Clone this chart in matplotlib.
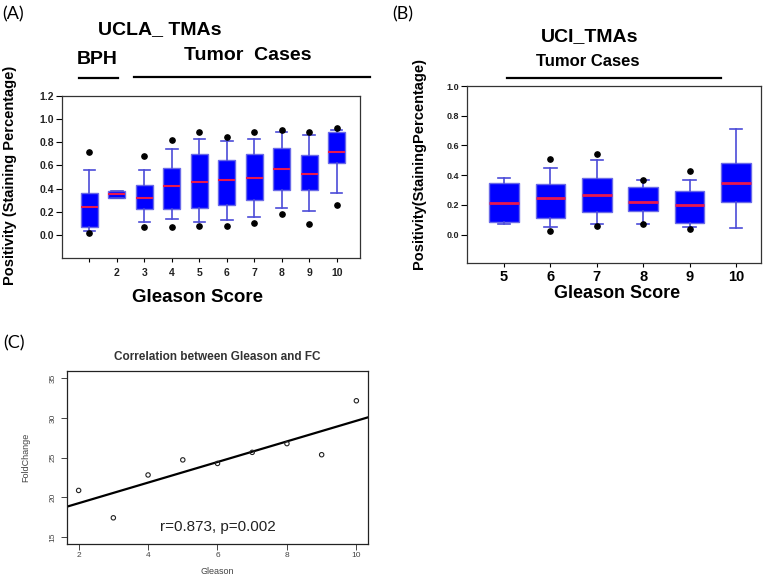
import numpy as np
import matplotlib
matplotlib.use("Agg")
import matplotlib.pyplot as plt
from matplotlib import font_manager
from matplotlib.lines import Line2D
import matplotlib.transforms as mtrans

# ---------------- data ----------------
ucla_pos = [1, 2, 3, 4, 5, 6, 7, 8, 9, 10]
ucla_ticklabels = ['', '2', '3', '4', '5', '6', '7', '8', '9', '10']
ucla_med = [0.24, 0.35, 0.32, 0.42, 0.46, 0.47, 0.49, 0.57, 0.53, 0.72]
ucla_q1 = [0.07, 0.32, 0.22, 0.22, 0.23, 0.26, 0.30, 0.39, 0.39, 0.62]
ucla_q3 = [0.36, 0.38, 0.43, 0.58, 0.70, 0.65, 0.70, 0.75, 0.69, 0.89]
ucla_wlo = [0.03, 0.32, 0.11, 0.14, 0.11, 0.13, 0.15, 0.23, 0.21, 0.36]
ucla_whi = [0.56, 0.38, 0.56, 0.74, 0.83, 0.81, 0.83, 0.89, 0.86, 0.91]
ucla_fliers = [[0.72, 0.02], [], [0.68, 0.07], [0.82, 0.07], [0.89, 0.08],
               [0.85, 0.08], [0.89, 0.10], [0.91, 0.18], [0.89, 0.09], [0.925, 0.26]]

uci_pos = [5, 6, 7, 8, 9, 10]
uci_ticklabels = ['5', '6', '7', '8', '9', '10']
uci_med = [0.215, 0.25, 0.27, 0.22, 0.20, 0.35]
uci_q1 = [0.085, 0.115, 0.155, 0.16, 0.08, 0.22]
uci_q3 = [0.35, 0.34, 0.38, 0.32, 0.295, 0.48]
uci_wlo = [0.075, 0.05, 0.07, 0.07, 0.055, 0.045]
uci_whi = [0.38, 0.45, 0.505, 0.365, 0.37, 0.71]
uci_fliers = [[], [0.51, 0.025], [0.54, 0.06], [0.37, 0.07], [0.43, 0.04], []]

gleason = [2, 3, 4, 5, 6, 7, 8, 9, 10]
fold_change = [20.85, 17.4, 22.8, 24.7, 24.25, 25.65, 26.75, 25.35, 32.15]

# ---------------- fonts ----------------
def has_font(name):
    try:
        font_manager.findfont(font_manager.FontProperties(family=name), fallback_to_default=False)
        return True
    except Exception:
        return False

narrow = has_font('Liberation Sans Narrow')
ylab_family = ['Liberation Sans Narrow'] if narrow else ['Liberation Sans']
ylab_size = 13 if narrow else 10.5
SANS = ['Liberation Sans', 'DejaVu Sans']
LABEL_FAMILY = ['Lato', 'DejaVu Sans'] if has_font('Lato') else ['DejaVu Sans']

plt.rcParams['font.family'] = SANS

W, H = 777, 577
fig = plt.figure(figsize=(W / 100, H / 100), dpi=100)

def fx(px):
    return px / W

def fy(py):
    return 1 - py / H

BOX_FACE = '#0000FF'
BOX_EDGE = '#6A6AE8'
WHISK = '#4C4CD8'
MED = '#E8174E'


def make_stats(med, q1, q3, wlo, whi, fliers):
    stats = []
    for i in range(len(med)):
        stats.append(dict(med=med[i], q1=q1[i], q3=q3[i], whislo=wlo[i],
                          whishi=whi[i], fliers=fliers[i]))
    return stats


def draw_boxes(ax, stats, pos, width, capw, medlw):
    ax.bxp(stats, positions=pos, widths=width, patch_artist=True,
           showfliers=True, capwidths=capw,
           boxprops=dict(facecolor=BOX_FACE, edgecolor=BOX_EDGE, linewidth=1.0),
           whiskerprops=dict(color=WHISK, linewidth=1.2),
           capprops=dict(color=WHISK, linewidth=1.2),
           medianprops=dict(color=MED, linewidth=medlw),
           flierprops=dict(marker='o', markerfacecolor='black', markeredgecolor='black',
                           markersize=3.8, linestyle='none'),
           manage_ticks=False)


# ---------------- Panel A ----------------
axA = fig.add_axes([fx(62), fy(258), fx(360) - fx(62), fy(96) - fy(258)])
draw_boxes(axA, make_stats(ucla_med, ucla_q1, ucla_q3, ucla_wlo, ucla_whi, ucla_fliers),
           ucla_pos, 0.62, 0.42, 1.5)
axA.set_xlim(0.0, 10.85)
axA.set_ylim(-0.2, 1.2)
axA.set_yticks(np.arange(0, 1.21, 0.2))
axA.set_yticklabels(['%.1f' % v for v in np.arange(0, 1.21, 0.2)])
axA.set_xticks(ucla_pos)
axA.set_xticklabels(ucla_ticklabels)
for lab in axA.get_yticklabels() + axA.get_xticklabels():
    lab.set_fontweight('bold')
    lab.set_fontsize(7.5)
    lab.set_color('#222222')
axA.tick_params(axis='y', direction='out', length=4, width=0.8, pad=1.5)
axA.tick_params(axis='x', direction='out', length=3, width=0.8, pad=4)
for s in axA.spines.values():
    s.set_linewidth(0.9)
    s.set_color('#333333')

fig.text(fx(197), fy(298), 'Gleason Score', ha='center', va='center',
         fontsize=13.5, fontweight='bold')
fig.text(fx(10), fy(175), 'Positivity (Staining Percentage)', rotation=90,
         ha='center', va='center', fontsize=ylab_size, fontweight='bold',
         family=ylab_family)
fig.text(fx(160), fy(30), 'UCLA_ TMAs', ha='center', va='center', fontsize=14,
         fontweight='bold')
fig.text(fx(97), fy(60), 'BPH', ha='center', va='center', fontsize=14,
         fontweight='bold')
fig.text(fx(248), fy(56), 'Tumor  Cases', ha='center', va='center', fontsize=14,
         fontweight='bold')
fig.add_artist(Line2D([fx(79), fx(118)], [fy(78), fy(78)], color='black', lw=1.6))
fig.add_artist(Line2D([fx(134), fx(370)], [fy(77), fy(77)], color='black', lw=1.6))
fig.text(fx(2), fy(14), '(A)', ha='left', va='center', fontsize=13, family=LABEL_FAMILY)

# ---------------- Panel B ----------------
axB = fig.add_axes([fx(467), fy(263), fx(761) - fx(467), fy(86) - fy(263)])
draw_boxes(axB, make_stats(uci_med, uci_q1, uci_q3, uci_wlo, uci_whi, uci_fliers),
           uci_pos, 0.64, 0.27, 2.0)
axB.set_xlim(4.2, 10.54)
axB.set_ylim(-0.19, 1.0)
axB.set_yticks(np.arange(0, 1.01, 0.2))
axB.set_yticklabels(['%.1f' % v for v in np.arange(0, 1.01, 0.2)])
axB.set_xticks(uci_pos)
axB.set_xticklabels(uci_ticklabels)
for lab in axB.get_yticklabels():
    lab.set_fontweight('bold')
    lab.set_fontsize(6.5)
    lab.set_color('#222222')
offset = mtrans.ScaledTranslation(5 / 100, 0, fig.dpi_scale_trans)
for lab in axB.get_xticklabels():
    lab.set_fontweight('bold')
    lab.set_fontsize(10.5)
    lab.set_transform(lab.get_transform() + offset)
axB.tick_params(axis='y', direction='out', length=4, width=0.8, pad=1.5)
axB.tick_params(axis='x', direction='out', length=3, width=0.8, pad=2)
for s in axB.spines.values():
    s.set_linewidth(0.9)
    s.set_color('#333333')

fig.text(fx(617), fy(293), 'Gleason Score', ha='center', va='center',
         fontsize=13, fontweight='bold')
fig.text(fx(419), fy(163), 'Positivity(StainingPercentage)', rotation=90,
         ha='center', va='center', fontsize=ylab_size, fontweight='bold',
         family=ylab_family)
fig.text(fx(590), fy(37), 'UCI_TMAs', ha='center', va='center', fontsize=14,
         fontweight='bold')
fig.text(fx(588), fy(62), 'Tumor Cases', ha='center', va='center', fontsize=12,
         fontweight='bold')
fig.add_artist(Line2D([fx(507), fx(721)], [fy(78), fy(78)], color='black', lw=1.6))
fig.text(fx(392), fy(14), '(B)', ha='left', va='center', fontsize=13, family=LABEL_FAMILY)

# ---------------- Panel C ----------------
axC = fig.add_axes([fx(67), fy(544), fx(368) - fx(67), fy(371) - fy(544)])
axC.scatter(gleason, fold_change, s=10, facecolors='none', edgecolors='#222222',
            linewidths=0.8, zorder=3)
slope, intercept = np.polyfit(gleason, fold_change, 1)
axC.axline((0, intercept), slope=slope, color='black', lw=1.6)
axC.set_xlim(1.665, 10.335)
axC.set_ylim(14.1, 35.9)
axC.set_xticks([2, 4, 6, 8, 10])
axC.set_yticks([15, 20, 25, 30, 35])
axC.tick_params(axis='both', direction='out', length=4, width=0.7, labelsize=6,
                labelcolor='#444444', color='#444444')
axC.tick_params(axis='x', pad=2)
for lab in axC.get_yticklabels():
    lab.set_rotation(90)
    lab.set_va('center')
for s in axC.spines.values():
    s.set_linewidth(0.9)
    s.set_color('#222222')
fig.text(fx(217), fy(572), 'Gleason', ha='center', va='center', fontsize=6.5,
         color='#444444')
axC.set_ylabel('FoldChange', fontsize=6.5, color='#444444', labelpad=14)
axC.set_title('Correlation between Gleason and FC', fontsize=8.5, fontweight='bold',
              color='#333333', pad=8)
axC.text(0.5, 0.1, 'r=0.873, p=0.002', transform=axC.transAxes, ha='center',
         va='center', fontsize=11, color='#222222')
fig.text(fx(3), fy(343), '(C)', ha='left', va='center', fontsize=13, family=LABEL_FAMILY)

fig.savefig('out.png', dpi=100)
